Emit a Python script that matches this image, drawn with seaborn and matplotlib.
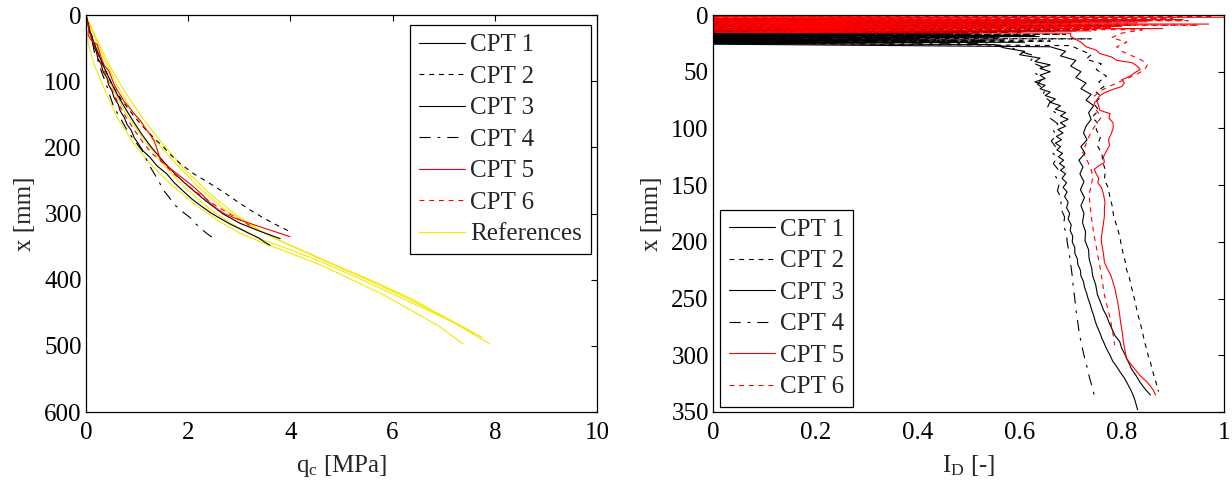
import numpy as np
import pandas as pd
import matplotlib
matplotlib.use("Agg")
import matplotlib.pyplot as plt
from matplotlib.lines import Line2D
import seaborn as sns

# ---------------- data: left panel (q_c vs depth) ----------------
cpt1_z = [0, 8, 16, 25, 35, 45, 55, 65, 75, 85, 95, 105, 115, 125, 135, 145, 155, 165, 175, 185, 195,
          205, 215, 228, 240, 253, 266, 278, 289, 299, 308, 316, 323, 330, 337, 343, 348]
cpt1_qc = [0, 0.02, 0.05, 0.07, 0.11, 0.14, 0.20, 0.23, 0.30, 0.33, 0.41, 0.44, 0.51, 0.55, 0.63, 0.67,
           0.75, 0.80, 0.89, 0.94, 1.03, 1.11, 1.25, 1.39, 1.58, 1.72, 1.90, 2.07, 2.26, 2.44, 2.64, 2.82,
           3.01, 3.19, 3.38, 3.49, 3.60]

cpt2_z = [0, 10, 20, 30, 45, 60, 80, 100, 120, 140, 155, 170, 185, 200, 213, 225, 240, 252, 268, 282,
          295, 307, 315, 325, 330]
cpt2_qc = [0, 0.03, 0.07, 0.11, 0.17, 0.24, 0.36, 0.48, 0.62, 0.81, 0.96, 1.13, 1.32, 1.52, 1.68, 1.85,
           2.11, 2.37, 2.70, 2.96, 3.22, 3.48, 3.67, 3.93, 4.03]

cpt3_z = [0, 10, 20, 30, 45, 60, 80, 100, 120, 140, 160, 180, 200, 220, 240, 260, 280, 301, 315, 327, 338]
cpt3_qc = [0, 0.03, 0.06, 0.10, 0.17, 0.25, 0.36, 0.48, 0.61, 0.76, 0.92, 1.09, 1.28, 1.50, 1.74, 2.02,
           2.33, 2.69, 3.02, 3.41, 3.80]

cpt4_z = [0, 10, 20, 30, 42, 55, 70, 85, 95, 110, 125, 140, 157, 175, 190, 205, 218, 230, 248, 265, 277,
          288, 298, 307, 315, 322, 330, 336]
cpt4_qc = [0, 0.03, 0.06, 0.09, 0.13, 0.16, 0.24, 0.30, 0.35, 0.42, 0.48, 0.55, 0.68, 0.81, 0.95, 1.10,
           1.18, 1.26, 1.40, 1.52, 1.64, 1.75, 1.90, 2.05, 2.14, 2.24, 2.36, 2.47]

cpt5_z = [0, 10, 20, 30, 38, 45, 55, 65, 75, 85, 95, 105, 115, 122, 130, 140, 150, 160, 170, 180, 190,
          200, 210, 220, 230, 240, 250, 260, 272, 285, 293, 300, 305, 310, 316, 322, 328, 335]
cpt5_qc = [0, 0.02, 0.05, 0.04, 0.10, 0.22, 0.26, 0.30, 0.35, 0.45, 0.50, 0.55, 0.62, 0.68, 0.74, 0.85,
           0.95, 1.07, 1.15, 1.25, 1.33, 1.38, 1.42, 1.46, 1.62, 1.78, 1.95, 2.11, 2.28, 2.44, 2.57, 2.70,
           2.85, 3.02, 3.25, 3.48, 3.72, 3.99]

cpt6_z = [0, 10, 20, 30, 40, 50, 60, 75, 90, 105, 120, 135, 150, 165, 180, 195, 210, 222, 240, 255, 270,
          285, 298, 310, 320]
cpt6_qc = [0, 0.03, 0.06, 0.09, 0.13, 0.18, 0.23, 0.30, 0.38, 0.46, 0.55, 0.64, 0.75, 0.87, 1.00, 1.14,
           1.30, 1.49, 1.72, 1.95, 2.20, 2.48, 2.75, 3.02, 3.25]

ref1_z = [0, 20, 45, 75, 110, 155, 195, 225, 255, 285, 310, 330, 345, 360, 378, 400, 422, 448, 470, 497]
ref1_qc = [0, 0, 0.05, 0.16, 0.35, 0.61, 0.94, 1.26, 1.65, 2.11, 2.57, 3.02, 3.48, 4.0, 4.6, 5.2, 5.8,
           6.4, 6.9, 7.38]
ref2_z = [0, 30, 60, 100, 145, 185, 225, 262, 295, 318, 338, 355, 373, 393, 418, 443, 465, 497]
ref2_qc = [0, 0.1, 0.25, 0.45, 0.75, 1.1, 1.5, 1.95, 2.45, 2.9, 3.4, 4.0, 4.6, 5.2, 5.9, 6.6, 7.2, 7.9]
ref3_z = [0, 30, 65, 105, 145, 180, 220, 260, 293, 318, 338, 358, 382, 405, 430, 460, 487]
ref3_qc = [0, 0.15, 0.35, 0.6, 0.9, 1.25, 1.7, 2.2, 2.7, 3.2, 3.7, 4.3, 5.0, 5.7, 6.4, 7.1, 7.75]
ref4_z = [0, 35, 75, 115, 155, 195, 235, 272, 303, 330, 352, 376, 400, 425, 452, 482]
ref4_qc = [0, 0.2, 0.45, 0.75, 1.1, 1.5, 1.95, 2.45, 2.95, 3.5, 4.1, 4.8, 5.5, 6.2, 6.9, 7.6]

# ---------------- data: right panel (I_D vs depth) ----------------
id1_z = [3, 4, 5, 6, 7, 8, 9, 10, 11, 12, 13, 14, 15, 16, 17, 18, 19, 20, 21, 22, 23, 24, 25, 26,
         29, 32, 35, 38, 41, 44, 47, 50, 53, 56, 59, 62, 65, 68, 71, 74, 77, 80, 83, 86, 89, 92, 95, 98,
         101, 104, 107, 110, 113, 116, 119, 122, 125, 128, 131, 134, 137, 140, 144, 148, 152, 156, 160,
         165, 170, 175, 180, 185, 190, 195, 200, 205, 210, 215, 220, 225, 230, 235, 240, 245, 250, 255,
         260, 265, 270, 275, 280, 285, 290, 295, 300, 305, 310, 315, 320, 325, 330, 335, 340, 345, 348]
id1_v = [-0.5, 0.62, -0.5, 0.78, -0.4, 0.55, -0.5, 0.66, -0.5, 0.48, -0.6, 0.71, -0.5, 0.52, -0.4, 0.60,
         -0.5, 0.45, -0.5, 0.57, -0.3, 0.50, -0.2, 0.55,
         0.57, 0.61, 0.60, 0.64, 0.63, 0.66, 0.64, 0.66, 0.64, 0.65, 0.63, 0.65, 0.64, 0.66, 0.65, 0.67,
         0.66, 0.68, 0.67, 0.69, 0.68, 0.695, 0.68, 0.69, 0.675, 0.685, 0.672, 0.682, 0.670, 0.680, 0.673,
         0.684, 0.676, 0.686, 0.678, 0.688, 0.680, 0.690, 0.683, 0.692, 0.685, 0.693, 0.688, 0.695, 0.692,
         0.698, 0.695, 0.701, 0.699, 0.704, 0.703, 0.708, 0.708, 0.713, 0.714, 0.719, 0.720, 0.725, 0.727,
         0.731, 0.734, 0.738, 0.741, 0.745, 0.748, 0.752, 0.757, 0.761, 0.766, 0.771, 0.777, 0.782, 0.790,
         0.797, 0.805, 0.811, 0.817, 0.822, 0.826, 0.829, 0.831]

id2_z = [4, 5, 6, 7, 8, 9, 10, 11, 12, 13, 14, 15, 16, 17, 18, 19, 20, 21, 22, 23, 24,
         27, 31, 35, 39, 43, 48, 54, 59, 63, 68, 72, 78, 84, 90, 95, 101, 108, 115, 122, 130, 137, 145,
         152, 159, 168, 177, 186, 195, 203, 211, 218, 224, 232, 240, 247, 253, 259, 265, 271, 277, 283,
         289, 295, 301, 306, 312, 318, 324, 329, 332]
id2_v = [-0.5, 0.85, -0.4, 0.70, -0.5, 0.82, -0.5, 0.64, -0.4, 0.75, -0.5, 0.58, -0.5, 0.69, -0.4, 0.62,
         -0.5, 0.74, -0.3, 0.66, -0.2,
         0.70, 0.72, 0.74, 0.73, 0.76, 0.75, 0.77, 0.755, 0.765, 0.75, 0.76, 0.745, 0.755, 0.742, 0.752,
         0.750, 0.758, 0.752, 0.761, 0.763, 0.768, 0.766, 0.773, 0.776, 0.781, 0.784, 0.790, 0.796, 0.799,
         0.803, 0.807, 0.809, 0.815, 0.819, 0.823, 0.826, 0.829, 0.832, 0.836, 0.839, 0.842, 0.845, 0.849,
         0.852, 0.856, 0.859, 0.863, 0.867, 0.870, 0.872]

id3_z = [5, 6, 7, 8, 9, 10, 11, 12, 13, 14, 15, 16, 17, 18, 19, 20, 21, 22, 23, 24, 25,
         28, 32, 36, 40, 45, 50, 55, 60, 65, 70, 75, 80, 86, 92, 98, 104, 110, 116, 122, 128, 134, 140,
         147, 154, 161, 168, 175, 183, 191, 199, 207, 215, 223, 230, 238, 246, 254, 260, 265, 271, 277,
         283, 288, 294, 300, 306, 312, 318, 324, 330, 335]
id3_v = [-0.4, 0.72, -0.5, 0.60, -0.5, 0.79, -0.4, 0.53, -0.5, 0.67, -0.5, 0.47, -0.4, 0.63, -0.5, 0.56,
         -0.4, 0.42, -0.5, 0.61, -0.2,
         0.66, 0.69, 0.68, 0.71, 0.70, 0.72, 0.71, 0.73, 0.72, 0.74, 0.73, 0.745, 0.735, 0.74, 0.73,
         0.725, 0.732, 0.720, 0.728, 0.716, 0.724, 0.718, 0.726, 0.719, 0.727, 0.720, 0.726, 0.723, 0.729,
         0.728, 0.735, 0.736, 0.741, 0.743, 0.749, 0.752, 0.759, 0.764, 0.770, 0.775, 0.781, 0.787, 0.796,
         0.800, 0.807, 0.813, 0.819, 0.828, 0.836, 0.846, 0.856]

id4_z = [8, 9, 10, 11, 12, 13, 14, 15, 16, 17, 18, 19, 20, 21, 22, 23, 24, 25,
         28, 32, 36, 41, 46, 51, 56, 61, 66, 71, 76, 81, 86, 91, 96, 101, 106, 111, 116, 121, 126, 131,
         136, 142, 148, 155, 162, 170, 178, 186, 193, 200, 210, 220, 230, 240, 250, 259, 268, 278, 288,
         296, 304, 312, 320, 328, 335]
id4_v = [-0.5, 0.58, -0.5, 0.68, -0.4, 0.44, -0.5, 0.61, -0.5, 0.50, -0.4, 0.64, -0.5, 0.40, -0.4, 0.55,
         -0.3, 0.52,
         0.58, 0.60, 0.63, 0.62, 0.645, 0.63, 0.645, 0.635, 0.65, 0.645, 0.66, 0.655, 0.67, 0.66, 0.675,
         0.665, 0.672, 0.662, 0.670, 0.664, 0.673, 0.666, 0.675, 0.670, 0.678, 0.674, 0.682, 0.680, 0.688,
         0.686, 0.692, 0.693, 0.697, 0.700, 0.703, 0.705, 0.708, 0.710, 0.713, 0.716, 0.720, 0.724, 0.728,
         0.733, 0.737, 0.742, 0.746]

id5_z = [1, 2, 3, 4, 5, 6, 7, 8, 9, 10, 11, 12, 13, 14, 15, 16,
         19, 24, 28, 31, 34, 37, 40, 42, 45, 48, 51, 54, 57, 60, 63, 66, 69, 72, 75, 79, 84, 87, 91, 95,
         100, 105, 110, 115, 120, 125, 130, 133, 136, 140, 144, 148, 152, 156, 160, 165, 170, 177, 184,
         190, 196, 200, 205, 210, 218, 224, 230, 236, 242, 247, 253, 259, 265, 272, 280, 288, 295, 303,
         308, 313, 318, 323, 327, 331, 335]
id5_v = [-0.5, 1.0, -0.5, 0.92, -0.4, 0.85, -0.5, 0.97, -0.5, 0.80, -0.4, 0.88, -0.5, 0.74, -0.3, 0.70,
         0.70, 0.72, 0.73, 0.75, 0.757, 0.78, 0.79, 0.82, 0.83, 0.836, 0.825, 0.816, 0.80, 0.805, 0.80,
         0.78, 0.764, 0.755, 0.751, 0.754, 0.757, 0.777, 0.775, 0.783, 0.783, 0.779, 0.774, 0.776, 0.770,
         0.764, 0.766, 0.755, 0.746, 0.750, 0.755, 0.753, 0.760, 0.763, 0.765, 0.767, 0.766, 0.766, 0.764,
         0.762, 0.760, 0.760, 0.762, 0.764, 0.766, 0.772, 0.779, 0.783, 0.787, 0.789, 0.792, 0.794, 0.796,
         0.798, 0.801, 0.803, 0.806, 0.809, 0.818, 0.827, 0.836, 0.848, 0.856, 0.862, 0.866]

id6_z = [0, 1, 2, 3, 4, 5, 6, 7, 8, 9, 10, 11, 12, 13,
         16, 20, 24, 28, 32, 36, 40, 44, 48, 52, 56, 60, 64, 68, 72, 76, 80, 85, 90, 95, 101, 108, 115,
         121, 126, 132, 138, 144, 150, 159, 168, 177, 186, 195, 204, 212, 221, 230, 238, 247, 256, 265,
         274, 282, 291]
id6_v = [-0.5, 0.98, -0.5, 0.90, -0.4, 0.93, -0.5, 0.83, -0.5, 0.95, -0.4, 0.78, -0.3, 0.84,
         0.80, 0.78, 0.81, 0.79, 0.80, 0.82, 0.84, 0.85, 0.845, 0.83, 0.81, 0.79, 0.77, 0.755, 0.745,
         0.748, 0.745, 0.752, 0.760, 0.752, 0.743, 0.735, 0.729, 0.723, 0.730, 0.736, 0.741, 0.743, 0.740,
         0.736, 0.738, 0.740, 0.743, 0.746, 0.750, 0.753, 0.757, 0.760, 0.763, 0.766, 0.771, 0.776, 0.780,
         0.783, 0.786]

labels = ["CPT 1", "CPT 2", "CPT 3", "CPT 4", "CPT 5", "CPT 6"]

# ---------------- style ----------------
sns.set_theme(style="white")
plt.rcParams["font.family"] = ["Liberation Serif", "DejaVu Serif"]
plt.rcParams["mathtext.fontset"] = "custom"
plt.rcParams["mathtext.rm"] = "Liberation Serif"
plt.rcParams["mathtext.it"] = "Liberation Serif:italic"
plt.rcParams["lines.scale_dashes"] = False
plt.rcParams["axes.edgecolor"] = "black"
plt.rcParams["axes.linewidth"] = 0.9

FS = 18
YELLOW = "#f4e800"
styles = [
    dict(color="black", ls="-"),
    dict(color="black", ls=(0, (3.5, 3.5))),
    dict(color="black", ls="-"),
    dict(color="black", ls=(0, (8, 5, 2, 5))),
    dict(color="red", ls="-"),
    dict(color="red", ls=(0, (3.5, 3.5))),
]
LW = 0.8

fig = plt.figure(figsize=(12.32, 4.87), dpi=100)
axL = fig.add_axes([86 / 1232, 1 - 412 / 487, 511 / 1232, 397 / 487])
axR = fig.add_axes([713 / 1232, 1 - 412 / 487, 511 / 1232, 397 / 487])


def draw(ax, x, y, st):
    df = pd.DataFrame({"x": x, "y": y})
    n0 = len(ax.get_lines())
    sns.lineplot(data=df, x="x", y="y", sort=False, estimator=None, ax=ax,
                 color=st["color"], linewidth=LW, legend=False)
    ln = ax.get_lines()[n0]
    ln.set_color(st["color"])
    ln.set_linestyle(st["ls"])
    ln.set_linewidth(LW)


left_sets = [(cpt1_qc, cpt1_z), (cpt2_qc, cpt2_z), (cpt3_qc, cpt3_z),
             (cpt4_qc, cpt4_z), (cpt5_qc, cpt5_z), (cpt6_qc, cpt6_z)]
ref_sets = [(ref1_qc, ref1_z), (ref2_qc, ref2_z), (ref3_qc, ref3_z), (ref4_qc, ref4_z)]
for x, y in ref_sets:
    draw(axL, x, y, dict(color=YELLOW, ls="-"))
for (x, y), st in zip(left_sets, styles):
    draw(axL, x, y, st)

right_sets = [(id1_v, id1_z), (id2_v, id2_z), (id3_v, id3_z),
              (id4_v, id4_z), (id5_v, id5_z), (id6_v, id6_z)]
for (x, y), st in zip(right_sets, styles):
    draw(axR, x, y, st)

for ax in (axL, axR):
    ax.tick_params(axis="both", direction="in", top=True, right=True, length=4, width=0.8,
                   labelsize=FS, colors="black")
    ax.tick_params(axis="x", pad=7)
    ax.tick_params(axis="y", pad=3)
    for s in ax.spines.values():
        s.set_visible(True)
        s.set_color("black")
    ax.set_ylabel("x [mm]", fontsize=FS, labelpad=6)

axL.set_xlim(0, 10)
axL.set_ylim(600, 0)
axL.set_xticks([0, 2, 4, 6, 8, 10])
axL.set_yticks(range(0, 601, 100))
axL.set_xlabel(r"q$_\mathrm{c}$ [MPa]", fontsize=FS, labelpad=7)

axR.set_xlim(0, 1)
axR.set_ylim(350, 0)
axR.set_xticks([0, 0.2, 0.4, 0.6, 0.8, 1.0])
axR.set_xticklabels(["0", "0.2", "0.4", "0.6", "0.8", "1"])
axR.set_yticks(range(0, 351, 50))
axR.set_xlabel(r"I$_\mathrm{D}$ [-]", fontsize=FS, labelpad=7)


def handles(with_ref):
    hs = [Line2D([0], [0], color=st["color"], linestyle=st["ls"], linewidth=LW) for st in styles]
    labs = list(labels)
    if with_ref:
        hs.append(Line2D([0], [0], color=YELLOW, linestyle="-", linewidth=LW))
        labs.append("References")
    return hs, labs


leg_kw = dict(fontsize=FS, frameon=True, fancybox=False, edgecolor="black", framealpha=1,
              handlelength=1.85, handletextpad=0.22, labelspacing=0.36, borderpad=0.35,
              borderaxespad=0)
h, l = handles(True)
lg = axL.legend(h, l, loc="upper right", bbox_to_anchor=(1 - 6 / 511, 1 - 10 / 397), **leg_kw)
lg.get_frame().set_linewidth(0.9)
h, l = handles(False)
lg2 = axR.legend(h, l, loc="lower left", bbox_to_anchor=(7 / 511, 5 / 397), **leg_kw)
lg2.get_frame().set_linewidth(0.9)

fig.savefig("out.png", dpi=100)
